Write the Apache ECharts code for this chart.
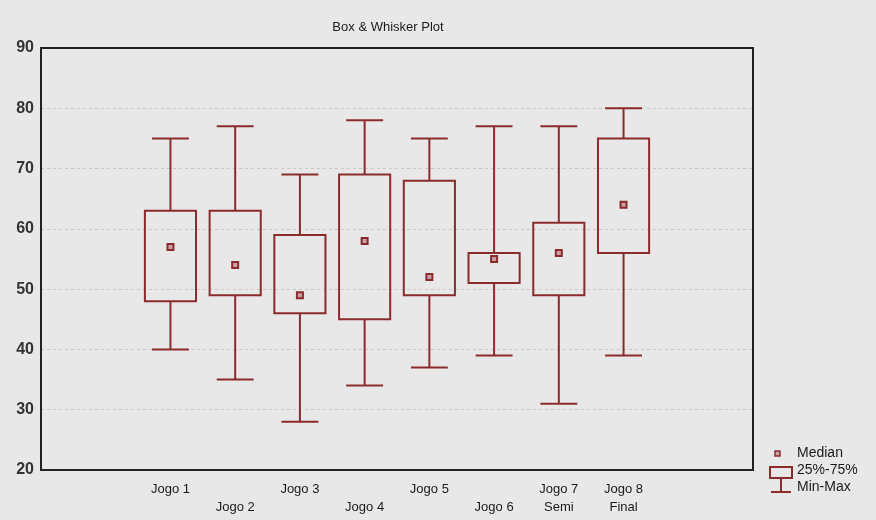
<!DOCTYPE html>
<html>
<head>
<meta charset="utf-8">
<script src="https://cdn.jsdelivr.net/npm/echarts@6/dist/echarts.min.js"></script>
<style>
  html, body { margin: 0; padding: 0; background: #e8e8e8; }
</style>
</head>
<body>
<div id="myChart" style="width: 876px; height: 520px;"></div>
<script>
  // categories (with empty slots for the padding on each side)
  let categories = ['', '', 'Jogo 1', '\nJogo 2', 'Jogo 3', '\nJogo 4', 'Jogo 5', '\nJogo 6', 'Jogo 7\nSemi', 'Jogo 8\nFinal', '', ''];
  let games = ['Jogo 1', 'Jogo 2', 'Jogo 3', 'Jogo 4', 'Jogo 5', 'Jogo 6', 'Jogo 7', 'Jogo 8'];
  let mins    = [40, 35, 28, 34, 37, 39, 31, 39];
  let q1s     = [48, 49, 46, 45, 49, 51, 49, 56];
  let medians = [57, 54, 49, 58, 52, 55, 56, 64];
  let q3s     = [63, 63, 59, 69, 68, 56, 61, 75];
  let maxs    = [75, 77, 69, 78, 75, 77, 77, 80];
  let yTicks  = [20, 30, 40, 50, 60, 70, 80, 90];

  let color = '#8b2b2b';
  let font = 'Liberation Sans, Arial, sans-serif';

  let data = games.map(function (g, i) {
    return [i + 2, mins[i], q1s[i], medians[i], q3s[i], maxs[i]];
  });

  function renderBox(params, api) {
    let x = api.value(0);
    let pMin = api.coord([x, api.value(1)]);
    let pQ1 = api.coord([x, api.value(2)]);
    let pMed = api.coord([x, api.value(3)]);
    let pQ3 = api.coord([x, api.value(4)]);
    let pMax = api.coord([x, api.value(5)]);
    let band = api.size([1, 0])[0];
    let boxW = band * 0.79;
    let capW = band * 0.57;
    let cx = pMed[0];
    let st = { stroke: color, lineWidth: 2, fill: null };
    return {
      type: 'group',
      children: [
        { type: 'line', shape: { x1: cx, y1: pMax[1], x2: cx, y2: pQ3[1] }, style: st },
        { type: 'line', shape: { x1: cx, y1: pQ1[1], x2: cx, y2: pMin[1] }, style: st },
        { type: 'line', shape: { x1: cx - capW / 2, y1: pMax[1], x2: cx + capW / 2, y2: pMax[1] }, style: st },
        { type: 'line', shape: { x1: cx - capW / 2, y1: pMin[1], x2: cx + capW / 2, y2: pMin[1] }, style: st },
        { type: 'rect', shape: { x: cx - boxW / 2, y: pQ3[1], width: boxW, height: pQ1[1] - pQ3[1] }, style: st },
        { type: 'rect', shape: { x: cx - 3, y: pMed[1] - 3, width: 6, height: 6 }, style: { stroke: color, lineWidth: 2, fill: '#c8a0a8' } }
      ]
    };
  }

  let myChart = echarts.init(document.getElementById('myChart'));
  let options = {
    backgroundColor: '#e8e8e8',
    animation: false,
    title: {
      text: 'Box & Whisker Plot',
      left: 383,
      top: 16,
      textAlign: 'center',
      textStyle: { fontFamily: font, fontSize: 13, fontWeight: 'normal', color: '#1a1a1a' }
    },
    grid: {
      left: 41, top: 48, right: 123, bottom: 50,
      show: true, borderColor: '#222', borderWidth: 2, backgroundColor: 'transparent'
    },
    xAxis: [{
      type: 'category',
      data: categories,
      boundaryGap: false,
      axisLine: { lineStyle: { color: '#222', width: 2 } },
      axisTick: { show: false },
      splitLine: { show: false },
      axisLabel: {
        interval: 0, margin: 10, color: '#1a1a1a', fontFamily: font, fontSize: 13, lineHeight: 18
      }
    }, {
      // top frame line, drawn over the 90 gridline
      type: 'category',
      position: 'top',
      data: categories,
      boundaryGap: false,
      axisLine: { show: true, lineStyle: { color: '#222', width: 2 } },
      axisTick: { show: false },
      axisLabel: { show: false },
      splitLine: { show: false }
    }],
    yAxis: {
      type: 'value',
      min: 20, max: 90, interval: 10,
      axisLine: { show: true, lineStyle: { color: '#222', width: 2 } },
      axisTick: { show: false },
      splitLine: { show: true, lineStyle: { color: '#c8c8c8', type: [3, 3], width: 1 } },
      axisLabel: {
        margin: 7, color: '#333', fontFamily: font, fontSize: 16, fontWeight: 'bold',
        formatter: function (v) { return yTicks.indexOf(v) >= 0 ? String(v) : ''; }
      }
    },
    graphic: [
      // legend
      { type: 'rect', shape: { x: 775, y: 451, width: 5, height: 5 }, style: { stroke: color, lineWidth: 1.5, fill: '#c8a0a8' } },
      { type: 'text', x: 797, y: 446, style: { text: 'Median', font: '14px ' + font, fill: '#1a1a1a' } },
      { type: 'rect', shape: { x: 770, y: 467, width: 22, height: 11 }, style: { stroke: color, lineWidth: 2, fill: null } },
      { type: 'line', shape: { x1: 781, y1: 478, x2: 781, y2: 492 }, style: { stroke: color, lineWidth: 2 } },
      { type: 'line', shape: { x1: 771, y1: 492, x2: 791, y2: 492 }, style: { stroke: color, lineWidth: 2 } },
      { type: 'text', x: 797, y: 463, style: { text: '25%-75%', font: '14px ' + font, fill: '#1a1a1a' } },
      { type: 'text', x: 797, y: 480, style: { text: 'Min-Max', font: '14px ' + font, fill: '#1a1a1a' } }
    ],
    series: [
      {
        name: 'Box',
        type: 'custom',
        renderItem: renderBox,
        encode: { x: 0, y: [1, 2, 3, 4, 5] },
        data: data
      }
    ]
  };
  myChart.setOption(options);
</script>
</body>
</html>
